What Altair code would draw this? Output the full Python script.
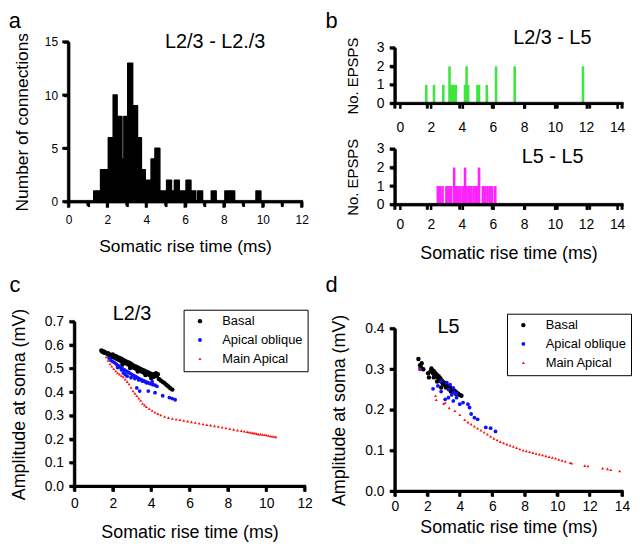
import altair as alt
import pandas as pd

FONT = "Liberation Sans"

# ---------------- Panel a: histogram (L2/3 - L2./3) ----------------
a_left = [1.3, 1.5, 1.65, 1.85, 2.05, 2.3, 2.5, 2.75, 2.85, 3.05, 3.3, 3.55, 3.75, 3.95,
          4.25, 4.45, 4.7, 5.05, 5.3, 5.45, 5.7, 6.05, 6.3, 6.65, 7.35, 8.05, 8.3, 9.65]
a_right = [1.5, 1.65, 1.85, 2.05, 2.3, 2.5, 2.75, 2.85, 3.05, 3.3, 3.55, 3.75, 3.95, 4.25,
           4.45, 4.7, 5.05, 5.3, 5.45, 5.7, 6.05, 6.3, 6.55, 6.9, 7.6, 8.3, 8.55, 9.9]
a_count = [1, 1, 3, 3, 6, 10, 8, 4, 8, 13, 9, 6, 3, 2,
           4, 5, 1, 2, 1, 2, 1, 2, 1, 1, 1, 1, 1, 1]

# ---------------- Panel b: EPSP counts ----------------
b1_x = [1.7, 2.2, 2.8, 3.2, 3.3, 3.4, 3.5, 3.6, 4.2, 4.3, 4.4, 5.0, 5.1, 5.6, 6.2, 7.4, 11.8]
b1_n = [1, 1, 1, 2, 1, 1, 1, 1, 1, 2, 1, 1, 1, 1, 2, 2, 2]
b2_x = [2.45, 2.6, 2.75, 3.0, 3.1, 3.2, 3.3, 3.5, 3.6, 3.75, 3.9, 4.05, 4.2, 4.3, 4.45,
        4.6, 4.75, 4.9, 5.0, 5.1, 5.35, 5.5, 5.65, 5.8, 5.95, 6.15]
b2_n = [1, 1, 1, 1, 1, 1, 1, 2, 1, 1, 1, 1, 2, 1, 1, 1, 1, 1, 1, 2, 1, 1, 1, 1, 1, 1]

# ---------------- Panel c: L2/3 amplitude vs rise time ----------------
c_basal_x = [1.40, 1.45, 1.50, 1.55, 1.60, 1.70, 1.75, 1.80, 1.85, 1.90, 2.00, 2.00, 2.10, 2.15,
             2.20, 2.25, 2.30, 2.35, 2.40, 2.45, 2.50, 2.55, 2.60, 2.65, 2.70, 2.75, 2.80, 2.85,
             2.90, 2.95, 3.00, 3.05, 3.10, 3.15, 3.20, 3.25, 3.30, 3.35, 3.40, 3.45, 3.50, 3.55,
             3.60, 3.65, 3.70, 3.75, 3.80, 3.85, 3.90, 3.95, 4.00, 4.05, 4.10, 4.15, 4.20, 4.25,
             4.30, 4.35, 4.40, 4.50, 4.60, 4.70, 4.80, 4.90, 5.00, 5.10, 2.50, 2.90, 3.30, 3.70, 4.00]
c_basal_y = [.577, .572, .574, .568, .570, .563, .566, .558, .560, .553, .550, .560, .546, .554,
             .542, .549, .538, .546, .534, .542, .530, .537, .526, .533, .522, .529, .518, .525,
             .514, .521, .508, .515, .504, .511, .500, .507, .496, .503, .492, .499, .488, .495,
             .484, .491, .481, .487, .477, .484, .473, .480, .469, .476, .465, .476, .468, .481,
             .471, .476, .456, .450, .444, .438, .431, .424, .417, .411, .518, .503, .488, .473, .460]
c_obl_x = [1.80, 1.90, 2.00, 2.10, 2.20, 2.25, 2.30, 2.40, 2.45, 2.50, 2.55, 2.60, 2.65, 2.70,
           2.75, 2.80, 2.90, 2.95, 3.00, 3.10, 3.15, 3.20, 3.30, 3.35, 3.40, 3.50, 3.55, 3.60,
           3.70, 3.75, 3.80, 3.90, 4.00, 4.05, 4.10, 4.20, 4.30, 3.25, 3.40, 3.85, 4.20, 4.60,
           4.95, 5.10, 5.25]
c_obl_y = [.545, .535, .530, .525, .518, .505, .512, .506, .495, .500, .482, .495, .475, .490,
           .468, .485, .480, .462, .475, .470, .458, .466, .461, .452, .457, .452, .447, .449,
           .445, .440, .442, .438, .435, .445, .432, .430, .425, .418, .405, .405, .398, .385,
           .377, .373, .368]
c_main_x = [1.65, 1.75, 1.85, 1.95, 2.05, 2.15, 2.25, 2.35, 2.45, 2.55, 2.65, 2.75, 2.85, 2.95,
            3.05, 3.15, 3.25, 3.35, 3.45, 3.55, 3.65, 3.75, 3.90, 4.05, 4.20, 4.35, 4.50, 4.70,
            4.90, 5.10, 5.30, 5.50, 5.70, 5.90, 6.10, 6.30, 6.50, 6.70, 6.90, 7.10, 7.30, 7.50,
            7.70, 7.90, 8.10, 8.30, 8.50, 8.70, 8.85, 9.00, 9.10, 9.20, 9.30, 9.40, 9.50, 9.60,
            9.70, 9.80, 9.90, 10.00, 10.10, 10.20, 10.30, 10.40, 10.50]
c_main_y = [.550, .535, .520, .510, .500, .490, .482, .476, .470, .465, .455, .445, .435, .420,
            .405, .395, .385, .375, .365, .352, .345, .338, .330, .322, .315, .309, .303, .297,
            .292, .288, .285, .283, .280, .277, .274, .271, .268, .265, .262, .260, .257, .254,
            .251, .248, .245, .242, .239, .236, .234, .232, .230, .229, .227, .226, .224, .222,
            .221, .220, .219, .218, .216, .214, .213, .212, .210]

# ---------------- Panel d: L5 amplitude vs rise time ----------------
d_basal_x = [1.45, 1.55, 1.60, 1.65, 1.75, 2.05, 2.10, 2.20, 2.25, 2.30, 2.35, 2.40, 2.45, 2.50,
             2.55, 2.60, 2.65, 2.70, 2.75, 2.80, 2.85, 2.90, 2.95, 3.00, 3.05, 3.10, 3.20, 3.30,
             3.40, 3.50, 3.60, 3.70, 3.80, 3.90, 4.00, 4.10, 2.85, 3.15, 3.45, 3.75, 2.60, 2.40]
d_basal_y = [.325, .310, .305, .315, .300, .290, .280, .295, .302, .298, .290, .295, .285, .290,
             .283, .286, .280, .283, .275, .278, .270, .272, .265, .268, .262, .265, .260, .258,
             .255, .252, .250, .246, .243, .240, .237, .235, .255, .255, .245, .240, .270, .280]
d_obl_x = [1.55, 2.35, 2.65, 2.85, 3.10, 3.30, 3.50, 3.60, 3.80, 4.00, 4.20, 4.50, 4.60, 4.70,
           4.90, 5.10, 5.60, 5.90, 6.20, 2.85, 3.20, 3.40, 3.60, 3.80, 3.30, 3.65]
d_obl_y = [.300, .252, .259, .245, .226, .230, .237, .222, .230, .214, .218, .214, .206, .190,
           .181, .177, .157, .155, .147, .271, .267, .262, .254, .240, .250, .243]
d_main_x = [1.55, 2.50, 2.55, 3.00, 3.10, 3.35, 3.70, 4.00, 4.30, 4.50, 4.70, 4.90, 5.10, 5.30,
            5.50, 5.70, 5.90, 6.10, 6.30, 6.50, 6.70, 6.90, 7.10, 7.30, 7.50, 7.70, 7.90, 8.10,
            8.30, 8.50, 8.70, 8.90, 9.10, 9.30, 9.50, 9.70, 9.90, 10.10, 10.30, 10.50, 10.80,
            10.90, 11.70, 11.90, 12.80, 13.10, 13.30, 13.85]
d_main_y = [.300, .235, .225, .215, .218, .205, .198, .188, .176, .170, .165, .160, .155, .150,
            .145, .140, .135, .130, .126, .122, .119, .116, .113, .110, .107, .104, .101, .099,
            .097, .095, .093, .091, .089, .087, .085, .083, .081, .078, .076, .074, .070,
            .069, .063, .062, .057, .055, .053, .050]

# tick values of each panel
a_xticks = list(range(13))
a_yticks = [0, 5, 10, 15]
b_xticks = list(range(0, 15, 2))
b_yticks = [0, 1, 2, 3]
c_xticks = list(range(0, 13, 2))
c_yticks = [i / 10 for i in range(8)]
d_xticks = list(range(0, 15, 2))
d_yticks = [i / 10 for i in range(5)]

SERIES = ["Basal", "Apical oblique", "Main Apical"]


def frame(xs, ys, name):
    return pd.DataFrame({"x": xs, "y": ys, "series": name})


def axis(title, values, lsize, tsize, lpad, tpad, fmt=None, expr=None, **extra):
    kw = dict(values=values, labelFontSize=lsize, titleFontSize=tsize,
              labelPadding=lpad, titlePadding=tpad, grid=False, labelOverlap=False,
              labelFlush=False, title=title if title else "",
              domain=True, domainColor="#000000", domainWidth=2.5, domainOpacity=1,
              ticks=True, tickColor="#000000", tickWidth=2.5, tickSize=5, tickOpacity=1,
              labelColor="black", titleColor="black", labelFont=FONT, titleFont=FONT,
              titleFontWeight="normal", zindex=2)
    if fmt:
        kw["format"] = fmt
    if expr:
        kw["labelExpr"] = expr
    kw.update(extra)
    return alt.Axis(**kw)


def text_layer(items, size, xenc, yenc):
    df = pd.DataFrame(items, columns=["x", "y", "t"])
    return alt.Chart(df).mark_text(font=FONT, fontSize=size, align="center",
                                   baseline="alphabetic", color="black").encode(
        x=xenc("x"), y=yenc("y"), text="t:N")


def frame_layer(xmax, ymax, xticks, yticks, ppx, ppy, xenc, yenc, tick_px=5, minor_px=None,
                lw=2.5):
    """Axis lines and tick marks as filled black bars; ppx/ppy = pixels per data unit."""
    hx = lw / 2 / ppx
    hy = lw / 2 / ppy
    segs = [(-hx, xmax + hx, -hy, hy), (-hx, hx, -hy, ymax)]
    for v in xticks:
        px = tick_px if (minor_px is None or v % 2 == 0) else minor_px
        segs.append((v - hx, v + hx, 0, -px / ppy))
    for v in yticks:
        segs.append((0, -tick_px / ppx, v - hy, v + hy))
    df = pd.DataFrame(segs, columns=["x1", "x2", "y1", "y2"])
    return alt.Chart(df).mark_bar(color="#000000", opacity=1, stroke="#000000",
                                  strokeWidth=0.5).encode(
        x=xenc("x1"), x2="x2:Q", y=yenc("y1"), y2="y2:Q")


# ---- a ----
ax_ax = axis("Somatic rise time (ms)", a_xticks, 12, 17.5, 8, 12,
             expr="datum.value % 2 == 0 ? datum.label : ''")
ay_ax = axis("Number of connections", a_yticks, 12, 17.5, 6, 13, offset=6)
xa = lambda f: alt.X(f + ":Q", scale=alt.Scale(domain=[0, 12], range=[-6, 229], nice=False), axis=ax_ax)
ya = lambda f: alt.Y(f + ":Q", scale=alt.Scale(domain=[0, 15], nice=False), axis=ay_ax)

df_a = pd.DataFrame({"l": a_left, "r": a_right, "n": a_count})
bars_a = alt.Chart(df_a).mark_rect(color="black", stroke="black", strokeWidth=1.5,
                                   strokeJoin="round").encode(x=xa("l"), x2="r:Q", y=ya("n"),
                                                              y2=alt.datum(0))
panel_a = alt.layer(
    bars_a,
    text_layer([(7.55, 14.45, "L2/3 - L2./3")], 20, xa, ya),
    text_layer([(-2.76, 16.3, "a")], 22, xa, ya),
    frame_layer(12, 15, a_xticks, a_yticks, 235 / 12, 161 / 15, xa, ya, tick_px=6, minor_px=4),
).properties(width=229, height=161)


# ---- b (two stacked sub-plots in one view) ----
def bx(f, offset, show_axis=True):
    sc = alt.Scale(domain=[0, 14], range=[0, 229], nice=False)
    if not show_axis:
        return alt.X(f + ":Q", scale=sc, axis=None)
    return alt.X(f + ":Q", scale=sc,
                 axis=axis("" if offset else "Somatic rise time (ms)", b_xticks,
                           14, 18, 12 if offset else 8, 13, orient="bottom", offset=offset))


def by(f, rng, show_axis=True):
    sc = alt.Scale(domain=[0, 3], range=rng, nice=False)
    if not show_axis:
        return alt.Y(f + ":Q", scale=sc, axis=None)
    return alt.Y(f + ":Q", scale=sc, axis=axis("No. EPSPS", b_yticks, 14, 15, 6, 16, orient="left"))


R1 = [62, 6]
R2 = [164, 108]
df_b1 = pd.DataFrame({"x": b1_x, "n": b1_n})
df_b2 = pd.DataFrame({"x": b2_x, "n": b2_n})
bars_b1 = alt.Chart(df_b1).mark_bar(color="#3ee63e", size=2.6).encode(x=bx("x", -102), y=by("n", R1))
bars_b2 = alt.Chart(df_b2).mark_bar(color="#ff22ff", size=2.6).encode(x=bx("x", 0), y=by("n", R2))
nx = lambda f: bx(f, 0, False)
ny1 = lambda f: by(f, R1, False)
ny2 = lambda f: by(f, R2, False)
txt_b1 = text_layer([(9.7, 3.2, "L2/3 - L5")], 20, nx, ny1)
let_b = text_layer([(-3.91, 4.07, "b")], 22, nx, ny1)
txt_b2 = text_layer([(9.72, 2.25, "L5 - L5")], 20, nx, ny2)
fr_b1 = frame_layer(14, 3, b_xticks, b_yticks, 229 / 14, 56 / 3, nx, ny1)
fr_b2 = frame_layer(14, 3, b_xticks, b_yticks, 229 / 14, 56 / 3, nx, ny2)
panel_b = alt.layer(bars_b1, bars_b2, txt_b1, let_b, txt_b2, fr_b1, fr_b2).resolve_scale(
    x="independent", y="independent").resolve_axis(x="independent", y="independent").properties(
    width=229, height=164)


# ---- c / d ----
def scatter_panel(df, xmax, xvals, ymax, yvals, w, h, yrange, legx, legy, title_txt, tpos,
                  letter, lpos, xlpad, xtpad):
    legend = alt.Legend(title=None, orient="none", legendX=legx, legendY=legy,
                        strokeColor="black", fillColor="white", padding=5,
                        symbolOffset=5, labelOffset=16, rowPadding=5,
                        labelFontSize=13, labelFont=FONT, labelColor="black")
    x_ax = axis("Somatic rise time (ms)", xvals, 14, 18, xlpad, xtpad)
    y_ax = axis("Amplitude at soma (mV)", yvals, 14, 18, 6, 16, fmt=".1f")
    xs = lambda f: alt.X(f + ":Q", scale=alt.Scale(domain=[0, xmax], nice=False), axis=x_ax)
    ys = lambda f: alt.Y(f + ":Q", scale=alt.Scale(domain=[0, ymax], range=yrange, nice=False), axis=y_ax)
    pts = alt.Chart(df).mark_point(filled=True, opacity=1, strokeWidth=0).encode(
        x=xs("x"), y=ys("y"),
        color=alt.Color("series:N", scale=alt.Scale(domain=SERIES, range=["black", "#1010ff", "#ff1010"]),
                        legend=legend),
        shape=alt.Shape("series:N", scale=alt.Scale(domain=SERIES, range=["circle", "circle", "triangle-up"]),
                        legend=legend),
        size=alt.Size("series:N", scale=alt.Scale(domain=SERIES, range=[20, 9, 13]), legend=legend),
    )
    ppx = w / xmax
    ppy = abs(yrange[0] - yrange[1]) / ymax
    return alt.layer(
        pts,
        text_layer([(tpos[0], tpos[1], title_txt)], 20, xs, ys),
        text_layer([(lpos[0], lpos[1], letter)], 22, xs, ys),
        frame_layer(xmax, ymax, xvals, yvals, ppx, ppy, xs, ys),
    ).properties(width=w, height=h)


df_c = pd.concat([frame(c_basal_x, c_basal_y, "Basal"), frame(c_obl_x, c_obl_y, "Apical oblique"),
                  frame(c_main_x, c_main_y, "Main Apical")])
df_d = pd.concat([frame(d_basal_x, d_basal_y, "Basal"), frame(d_obl_x, d_obl_y, "Apical oblique"),
                  frame(d_main_x, d_main_y, "Main Apical")])

panel_c = scatter_panel(df_c, 12, c_xticks, 0.7, c_yticks, 232, 166,
                        [166, 0], 110, -12, "L2/3", (3.0, 0.705), "c", (-3.1, 0.827), 5, 14)
panel_d = scatter_panel(df_d, 14, d_xticks, 0.4, d_yticks, 229, 171,
                        [171, 7], 113, -8, "L5", (3.3, 0.39), "d", (-3.91, 0.49), 3, 6)

chart = alt.concat(panel_a, panel_b, panel_c, panel_d, columns=2,
                   spacing={"row": 118, "column": 91}, bounds="flush")
chart = chart.resolve_scale(color="independent", shape="independent", size="independent") \
    .resolve_legend(color="independent", shape="independent", size="independent")
chart = chart.properties(padding=0, background="white").configure_view(stroke=None)

chart.save("out.html", embed_options={"renderer": "svg", "actions": False})
